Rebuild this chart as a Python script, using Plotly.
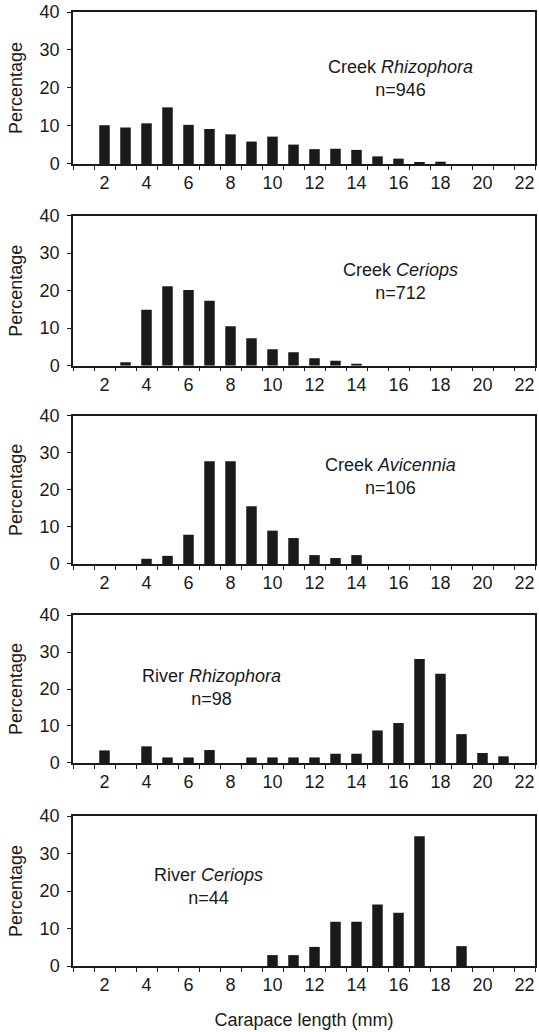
import plotly.graph_objects as go

# Carapace length classes (mm)
lengths = list(range(1, 23))

creek_rhizophora = [0, 10.2, 9.6, 10.7, 14.9, 10.3, 9.2, 7.8, 5.9, 7.2, 5.1, 3.9,
                    4.0, 3.7, 2.0, 1.4, 0.3, 0.6, 0, 0, 0, 0]
creek_ceriops = [0, 0, 0.9, 14.9, 21.2, 20.2, 17.3, 10.5, 7.3, 4.4, 3.6, 2.0,
                 1.3, 0.4, 0, 0, 0, 0, 0, 0, 0, 0]
creek_avicennia = [0, 0, 0, 1.4, 2.2, 7.9, 27.7, 27.7, 15.6, 9.0, 7.0, 2.4,
                   1.6, 2.4, 0, 0, 0, 0, 0, 0, 0, 0]
river_rhizophora = [0, 3.4, 0, 4.5, 1.5, 1.5, 3.5, 0, 1.5, 1.5, 1.5, 1.5,
                    2.5, 2.5, 8.8, 10.8, 28.1, 24.1, 7.8, 2.7, 1.8, 0]
river_ceriops = [0, 0, 0, 0, 0, 0, 0, 0, 0, 2.9, 2.9, 5.1,
                 11.8, 11.8, 16.4, 14.2, 34.6, 0, 5.3, 0, 0, 0]

series = [creek_rhizophora, creek_ceriops, creek_avicennia, river_rhizophora, river_ceriops]
labels = ["Creek <i>Rhizophora</i><br>n=946",
          "Creek <i>Ceriops</i><br>n=712",
          "Creek <i>Avicennia</i><br>n=106",
          "River <i>Rhizophora</i><br>n=98",
          "River <i>Ceriops</i><br>n=44"]
label_pos = [(16.1, 22.6), (16.1, 22.5), (15.6, 23.5), (7.1, 20.5), (6.95, 21.1)]

x_tickvals = list(range(2, 23, 2))
x_ticktext = [str(v) for v in x_tickvals]
y_tickvals = [0, 10, 20, 30, 40]
boundaries = [v - 0.5 for v in lengths] + [lengths[-1] + 0.5]

domains = [(0.8407, 1.0), (0.6293, 0.7865), (0.4214, 0.5768), (0.2128, 0.3679), (0.0, 0.1572)]

ink = "#1a1a1a"
font = dict(family="Liberation Sans, Arial, sans-serif", size=18, color=ink)

fig = go.Figure()
layout = dict(
    width=539, height=1032,
    margin=dict(l=73, r=2, t=12, b=66),
    paper_bgcolor="white", plot_bgcolor="white",
    showlegend=False, font=font, bargap=0.5,
    annotations=[],
)

for i, vals in enumerate(series):
    n = i + 1
    xa = "x" if n == 1 else f"x{n}"
    ya = "y" if n == 1 else f"y{n}"
    fig.add_trace(go.Bar(x=lengths, y=vals, xaxis=xa, yaxis=ya,
                         marker=dict(color=ink, line=dict(width=0))))
    xkey = "xaxis" if n == 1 else f"xaxis{n}"
    ykey = "yaxis" if n == 1 else f"yaxis{n}"
    layout[xkey] = dict(
        domain=[0, 1], anchor=ya, range=[0.5, 22.5],
        tickmode="array", tickvals=x_tickvals, ticktext=x_ticktext,
        ticks="outside", ticklen=4, tickcolor="rgba(0,0,0,0)",
        ticklabelstandoff=-2,
        minor=dict(tickvals=boundaries, ticks="outside", ticklen=4,
                   tickcolor=ink, tickwidth=1, showgrid=False),
        showline=True, linecolor=ink, linewidth=1.5, mirror=True,
        showgrid=False, zeroline=False, tickfont=font,
        title=dict(text="Carapace length (mm)", font=font, standoff=19) if n == 5 else None,
    )
    layout[ykey] = dict(
        domain=list(domains[i]), anchor=xa, range=[0, 40],
        tickmode="array", tickvals=y_tickvals,
        ticks="outside", ticklen=4, tickcolor=ink, tickwidth=1,
        ticklabelstandoff=4,
        showline=True, linecolor=ink, linewidth=1.5, mirror=True,
        showgrid=False, zeroline=False, tickfont=font,
        title=dict(text="Percentage", font=font, standoff=12),
    )
    layout["annotations"].append(dict(
        text=labels[i], x=label_pos[i][0], y=label_pos[i][1], xref=xa, yref=ya,
        showarrow=False, font=font, align="center",
    ))

fig.update_layout(**layout)
fig.write_html("out.html", config={"displayModeBar": False},
               post_script="document.body.style.margin='0';document.body.style.overflow='hidden';")
